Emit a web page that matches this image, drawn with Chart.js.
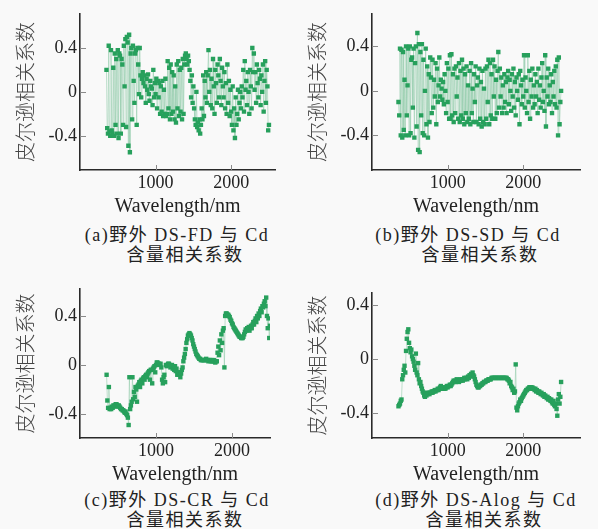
<!DOCTYPE html>
<html>
<head>
<meta charset="utf-8">
<script src="https://cdn.jsdelivr.net/npm/chart.js@4.4.1/dist/chart.umd.min.js"></script>
<style>
  html, body { margin: 0; padding: 0; background: #f9f9f9; }
  body { width: 598px; height: 529px; position: relative; overflow: hidden; }
  canvas { position: absolute; }
  .cap { position: absolute; width: 300px; text-align: center; font-family: "Liberation Serif", "Noto Sans CJK SC", serif; font-size: 18px; letter-spacing: 1.5px; color: #222; line-height: 20px; white-space: nowrap; }
</style>
</head>
<body>
<canvas id="ca" width="292" height="222" style="left:0px;top:0px"></canvas>
<canvas id="cb" width="298" height="222" style="left:292px;top:0px"></canvas>
<canvas id="cc" width="292" height="220" style="left:0px;top:270px"></canvas>
<canvas id="cd" width="298" height="220" style="left:292px;top:270px"></canvas>
<div class="cap" style="left:27px;top:225px">(a)野外 DS-FD 与 Cd</div>
<div class="cap" style="left:35px;top:245px">含量相关系数</div>
<div class="cap" style="left:318px;top:225px">(b)野外 DS-SD 与 Cd</div>
<div class="cap" style="left:330px;top:245px">含量相关系数</div>
<div class="cap" style="left:27px;top:490px">(c)野外 DS-CR 与 Cd</div>
<div class="cap" style="left:35px;top:510px">含量相关系数</div>
<div class="cap" style="left:326px;top:490px">(d)野外 DS-Alog 与 Cd</div>
<div class="cap" style="left:334px;top:510px">含量相关系数</div>
<script>
// Sampling grid (nm), 350..2500 every 10 nm
const WAVELENGTHS = Array.from({length: 216}, (_, i) => 350 + 10 * i);
const X_TICKS = [1000, 2000];
const Y_TICKS = [-0.4, 0, 0.4];
const Y_TITLE = '皮尔逊相关系数';
const X_TITLE = 'Wavelength/nm';

const DS_FD = [
  0.20, -0.33, -0.38, 0.42, -0.36, -0.40, 0.38, -0.35, -0.38, 0.22,
  -0.40, 0.35, -0.30, 0.30, -0.38, 0.38, -0.42, 0.35, 0.33, -0.38,
  0.30, 0.25, -0.30, 0.42, 0.05, 0.48, -0.32, 0.50, 0.45, -0.49,
  0.52, -0.55, 0.35, 0.40, -0.25, 0.42, 0.10, -0.10, 0.35, 0.38,
  -0.30, 0.40, 0.25, -0.02, 0.40, 0.15, -0.05, 0.12, 0.18, 0.08,
  0.15, 0.05, -0.10, 0.12, 0.02, 0.16, -0.02, -0.08, 0.10, 0.05,
  0.03, -0.12, 0.20, -0.05, 0.08, -0.02, 0.12, -0.15, 0.10, -0.05,
  0.08, -0.20, 0.05, -0.18, 0.10, -0.22, 0.02, -0.20, 0.12, -0.22,
  -0.20, 0.28, -0.15, 0.22, -0.25, 0.25, -0.20, 0.18, -0.18, 0.15,
  -0.25, 0.05, -0.28, 0.25, -0.15, 0.28, -0.22, 0.20, -0.18, 0.22,
  -0.25, 0.30, -0.20, 0.25, 0.33, 0.35, 0.30, 0.25, 0.33, 0.28,
  0.20, 0.10, -0.05, 0.15, -0.10, 0.05, -0.15, -0.25, -0.30, 0.00,
  -0.32, -0.28, -0.35, -0.25, -0.38, -0.30, -0.15, -0.25, 0.15, -0.22,
  0.10, -0.05, 0.18, -0.10, 0.15, 0.38, 0.00, 0.20, -0.12, 0.12,
  -0.15, 0.30, 0.05, -0.20, 0.20, 0.08, -0.10, 0.25, 0.15, -0.05,
  0.30, 0.10, -0.12, 0.22, 0.05, -0.05, 0.18, -0.15, 0.08, -0.20,
  0.25, -0.10, 0.10, -0.22, 0.02, -0.18, -0.30, 0.05, -0.35, -0.15,
  -0.42, -0.05, -0.30, -0.20, 0.02, -0.25, -0.10, 0.00, -0.15, 0.05,
  -0.05, 0.20, -0.18, 0.28, 0.02, 0.10, -0.12, 0.18, 0.00, -0.20,
  0.20, 0.05, -0.15, 0.40, 0.18, 0.35, 0.02, 0.18, -0.10, 0.25,
  0.08, -0.05, 0.20, 0.12, -0.12, 0.15, 0.00, 0.25, -0.18, 0.10,
  0.28, -0.10, 0.20, 0.05, -0.35, -0.30
];

const DS_SD = [
  -0.10, -0.22, 0.38, -0.40, 0.37, -0.42, 0.35, -0.35, 0.10, -0.40,
  0.40, -0.22, 0.05, 0.38, -0.40, 0.40, -0.38, 0.28, 0.30, -0.15,
  0.38, -0.42, 0.25, 0.40, -0.32, 0.52, -0.53, 0.42, -0.55, 0.35,
  -0.22, 0.42, -0.38, 0.28, -0.40, 0.00, 0.38, -0.30, 0.22, -0.42,
  0.15, -0.28, 0.30, 0.12, -0.20, 0.28, -0.15, 0.10, -0.05, 0.25,
  -0.30, 0.20, -0.10, 0.05, 0.30, -0.05, 0.10, 0.02, -0.08, 0.08,
  -0.12, 0.15, 0.00, -0.20, 0.25, -0.10, 0.20, -0.25, 0.32, -0.25,
  0.33, -0.22, 0.15, -0.28, 0.20, -0.20, 0.22, -0.05, 0.12, -0.25,
  0.25, -0.28, 0.18, -0.22, 0.28, -0.25, 0.20, -0.30, 0.15, -0.20,
  0.22, -0.28, 0.05, -0.25, 0.18, -0.30, 0.25, -0.20, 0.02, -0.28,
  0.15, -0.10, 0.22, -0.28, 0.05, 0.12, -0.30, 0.20, -0.25, 0.08,
  -0.32, 0.18, -0.28, 0.02, -0.30, 0.20, -0.25, 0.22, -0.10, 0.28,
  -0.30, 0.25, -0.22, 0.15, -0.25, 0.28, -0.05, 0.22, -0.25, 0.10,
  -0.20, 0.18, 0.35, -0.15, 0.20, -0.05, 0.12, -0.20, 0.05, -0.15,
  0.15, -0.10, 0.08, -0.20, 0.12, 0.18, -0.12, 0.10, 0.00, -0.18,
  0.15, -0.05, 0.20, -0.15, 0.08, -0.22, 0.12, 0.00, -0.08, 0.15,
  -0.30, 0.18, 0.05, -0.12, 0.10, -0.05, 0.32, -0.15, 0.12, 0.00,
  -0.20, 0.32, -0.10, 0.18, -0.25, 0.10, -0.05, 0.20, -0.15, 0.05,
  -0.12, 0.15, -0.05, 0.08, -0.20, 0.20, -0.08, 0.05, -0.15, 0.12,
  0.25, -0.10, 0.00, -0.18, 0.32, -0.32, 0.12, -0.05, 0.20, -0.12,
  0.05, -0.10, 0.15, -0.20, 0.08, -0.05, 0.18, -0.12, 0.22, -0.15,
  0.28, -0.40, 0.30, -0.30, -0.10, 0.00
];

const DS_CR = [
  -0.08, -0.29, -0.35, -0.18, -0.36, -0.35, -0.36, -0.34, -0.35, -0.33,
  -0.34, -0.33, -0.32, -0.32, -0.33, -0.34, -0.33, -0.34, -0.35, -0.36,
  -0.36, -0.37, -0.37, -0.38, -0.39, -0.38, -0.40, -0.41, -0.43, -0.49,
  -0.10, -0.36, -0.33, -0.30, -0.10, -0.28, -0.22, -0.26, -0.18, -0.20,
  -0.30, -0.17, -0.16, -0.14, -0.18, -0.13, -0.12, -0.15, -0.11, -0.10,
  -0.12, -0.09, -0.08, -0.10, -0.07, -0.06, -0.05, -0.12, -0.04, -0.04,
  -0.15, -0.03, -0.02, -0.01, -0.06, 0.00, 0.02, 0.02, 0.01, 0.01,
  0.00, 0.01, -0.02, -0.12, -0.15, -0.10, -0.08, -0.14, 0.00, -0.01,
  0.00, 0.01, 0.01, 0.00, -0.02, -0.01, 0.00, -0.03, -0.02, -0.04,
  -0.01, -0.05, -0.03, -0.08, -0.06, -0.06, -0.08, -0.10, -0.07, -0.04,
  -0.02, 0.03, 0.06, 0.09, 0.13, 0.18, 0.21, 0.24, 0.25, 0.26,
  0.25, 0.24, 0.22, 0.20, 0.17, 0.15, 0.13, 0.11, 0.09, 0.08,
  0.07, 0.06, 0.05, 0.05, 0.04, 0.04, 0.04, 0.04, 0.04, 0.04,
  0.04, 0.05, 0.04, 0.04, 0.03, 0.04, 0.04, 0.03, 0.04, 0.03,
  0.03, 0.04, 0.03, 0.02, 0.03, 0.03, 0.10, 0.15, 0.08, 0.20,
  0.12, 0.25, 0.18, 0.28, 0.30, -0.02, 0.40, 0.42, 0.42, 0.41,
  0.41, 0.40, 0.39, 0.37, 0.36, 0.34, 0.33, 0.31, 0.30, 0.29,
  0.28, 0.27, 0.26, 0.25, 0.24, 0.23, 0.23, 0.22, 0.22, 0.22,
  0.23, 0.25, 0.27, 0.29, 0.28, 0.30, 0.29, 0.31, 0.28, 0.30,
  0.32, 0.30, 0.33, 0.35, 0.33, 0.36, 0.38, 0.35, 0.40, 0.38,
  0.42, 0.40, 0.44, 0.46, 0.43, 0.48, 0.47, 0.50, 0.52, 0.48,
  0.55, 0.40, 0.30, 0.38, 0.22, 0.32
];

const DS_ALOG = [
  -0.35, -0.34, -0.33, -0.31, -0.30, -0.15, -0.12, -0.08, -0.05, -0.10,
  0.06, 0.15, 0.20, 0.22, 0.12, 0.08, 0.05, 0.07, 0.02, 0.00,
  -0.02, -0.05, -0.08, 0.04, -0.10, -0.12, -0.03, -0.15, -0.18, -0.17,
  -0.20, -0.22, -0.24, -0.25, -0.27, -0.28, -0.26, -0.27, -0.25, -0.26,
  -0.25, -0.26, -0.25, -0.25, -0.24, -0.25, -0.24, -0.24, -0.23, -0.24,
  -0.23, -0.23, -0.22, -0.23, -0.22, -0.21, -0.20, -0.22, -0.21, -0.22,
  -0.22, -0.21, -0.22, -0.21, -0.20, -0.21, -0.20, -0.20, -0.19, -0.20,
  -0.19, -0.18, -0.17, -0.16, -0.17, -0.16, -0.17, -0.15, -0.16, -0.16,
  -0.17, -0.16, -0.15, -0.16, -0.15, -0.16, -0.15, -0.14, -0.15, -0.14,
  -0.14, -0.15, -0.13, -0.14, -0.12, -0.13, -0.11, -0.12, -0.10, -0.12,
  -0.13, -0.15, -0.17, -0.19, -0.20, -0.21, -0.21, -0.20, -0.20, -0.19,
  -0.19, -0.18, -0.18, -0.17, -0.17, -0.17, -0.16, -0.16, -0.16, -0.15,
  -0.15, -0.15, -0.15, -0.14, -0.14, -0.14, -0.14, -0.14, -0.14, -0.14,
  -0.14, -0.14, -0.14, -0.14, -0.14, -0.14, -0.14, -0.14, -0.14, -0.14,
  -0.14, -0.14, -0.14, -0.14, -0.15, -0.15, -0.16, -0.18, -0.17, -0.20,
  -0.21, -0.23, -0.22, -0.25, -0.24, -0.04, -0.36, -0.38, -0.35, -0.33,
  -0.32, -0.30, -0.31, -0.29, -0.28, -0.27, -0.26, -0.25, -0.24, -0.23,
  -0.23, -0.22, -0.22, -0.21, -0.21, -0.21, -0.22, -0.21, -0.22, -0.22,
  -0.23, -0.22, -0.24, -0.23, -0.24, -0.25, -0.24, -0.25, -0.26, -0.25,
  -0.26, -0.27, -0.26, -0.28, -0.27, -0.28, -0.29, -0.28, -0.30, -0.29,
  -0.30, -0.31, -0.30, -0.32, -0.33, -0.31, -0.34, -0.35, -0.33, -0.37,
  -0.42, -0.30, -0.26, -0.33, -0.28, -0.17
];

const MARKER = '#27a05c';
const LINK = 'rgba(150, 205, 172, 0.75)';
const SERIF = '"Liberation Serif", "Times New Roman", serif';
const CJK = '"Noto Sans CJK SC", sans-serif';

const innerTicks = {
  id: 'innerTicks',
  beforeDatasetsDraw(chart) {
    const {ctx, chartArea: a, scales: {x, y}} = chart;
    ctx.save();
    ctx.strokeStyle = '#8a8a8a';
    ctx.lineWidth = 1;
    ctx.beginPath();
    x.ticks.forEach(t => {
      const px = Math.round(x.getPixelForValue(t.value)) + 0.5;
      ctx.moveTo(px, a.bottom);
      ctx.lineTo(px, a.bottom - 5);
    });
    y.ticks.forEach(t => {
      const py = Math.round(y.getPixelForValue(t.value)) + 0.5;
      ctx.moveTo(a.left, py);
      ctx.lineTo(a.left + 6, py);
    });
    ctx.stroke();
    ctx.restore();
  }
};

function makeChart(id, values, opt) {
  const pts = WAVELENGTHS.map((w, i) => ({x: w, y: values[i]}));
  return new Chart(document.getElementById(id), {
    type: 'line',
    data: { datasets: [{
      data: pts,
      borderColor: LINK,
      borderWidth: 0.8,
      pointStyle: 'rect',
      pointRadius: 3.1,
      pointBorderWidth: 0,
      pointBackgroundColor: MARKER,
      tension: 0,
      fill: false
    }]},
    options: {
      responsive: false,
      animation: false,
      devicePixelRatio: 1,
      layout: { padding: { top: opt.top, right: opt.right, left: 0, bottom: 0 } },
      plugins: { legend: { display: false }, tooltip: { enabled: false } },
      scales: {
        x: {
          type: 'linear',
          min: 0, max: opt.xmax,
          afterFit: s => { s.height = 52; },
          afterBuildTicks: s => { s.ticks = X_TICKS.map(v => ({value: v})); },
          grid: { display: false, drawTicks: false },
          border: { display: true, color: '#2a2a2a', width: 1.6 },
          ticks: { padding: 2, color: '#222', font: { family: SERIF, size: 18 }, maxRotation: 0, callback: v => String(v) },
          title: { display: true, text: X_TITLE, color: '#222', font: { family: SERIF, size: 20 }, padding: { top: 0, bottom: 3 } }
        },
        y: {
          type: 'linear',
          min: opt.ymin, max: opt.ymax,
          afterFit: s => { s.width = 80; },
          afterBuildTicks: s => { s.ticks = Y_TICKS.map(v => ({value: v})); },
          grid: { display: false, drawTicks: false },
          border: { display: true, color: '#2a2a2a', width: 1.6 },
          ticks: { padding: 3, color: '#222', font: { family: SERIF, size: 18 }, callback: v => v === 0 ? '0' : v.toFixed(1) },
          title: { display: true, text: Y_TITLE, color: '#444', font: { family: CJK, size: 20, weight: '300' }, padding: { top: 13, bottom: 0 } }
        }
      }
    },
    plugins: [innerTicks]
  });
}

makeChart('ca', DS_FD,   { top: 10, right: 17, xmax: 2580, ymin: -0.711, ymax: 0.711 });
makeChart('cb', DS_SD,   { top: 12, right: 10, xmax: 2750, ymin: -0.711, ymax: 0.693 });
makeChart('cc', DS_CR,   { top: 19, right: 22, xmax: 2500, ymin: -0.596, ymax: 0.620 });
makeChart('cd', DS_ALOG, { top: 23, right: 10, xmax: 2750, ymin: -0.585, ymax: 0.489 });
</script>
</body>
</html>
